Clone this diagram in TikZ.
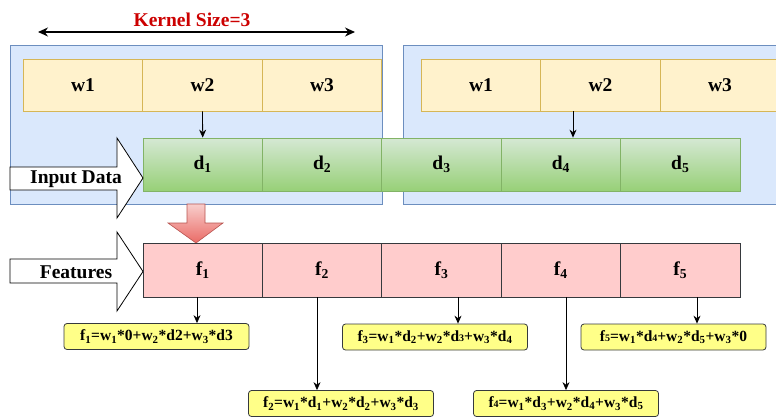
\documentclass[tikz,border=0pt]{standalone}
\usepackage{fontspec}
\setmainfont{Liberation Serif}[BoldFont={Liberation Serif Bold}]
\newfontfamily\diagserif{Liberation Serif}[BoldFont={Liberation Serif Bold}]
\usetikzlibrary{arrows.meta}

\definecolor{winfill}{HTML}{DAE8FC}
\definecolor{winline}{HTML}{6C8EBF}
\definecolor{wfill}{HTML}{FFF2CC}
\definecolor{wline}{HTML}{D6B656}
\definecolor{dtop}{HTML}{D5E8D4}
\definecolor{dbot}{HTML}{97D077}
\definecolor{dline}{HTML}{82B366}
\definecolor{ffill}{HTML}{FFCCCC}
\definecolor{darkline}{HTML}{36393D}
\definecolor{eqfill}{HTML}{FFFF88}
\definecolor{rtop}{HTML}{F8CECC}
\definecolor{rbot}{HTML}{EA6B66}
\definecolor{rline}{HTML}{B85450}
\definecolor{kred}{HTML}{CC0000}

\newcommand\lblfont{\diagserif\fontsize{19.5}{19.5}\selectfont\bfseries}
\newcommand\eqfont{\diagserif\fontsize{15.5}{15.5}\selectfont\bfseries}
% small digit kept on the baseline
\newcommand\lo[1]{{\fontsize{10}{10}\selectfont #1}}

\tikzset{
  win/.style={draw=winline, fill=winfill, line width=0.8pt, inner sep=0pt, anchor=north west},
  wcell/.style={draw=wline, fill=wfill, line width=0.8pt, minimum width=119.7pt,
    minimum height=52pt, inner sep=0pt, font=\lblfont},
  dcell/.style={draw=dline, top color=dtop, bottom color=dbot, line width=0.8pt,
    minimum width=119.4pt, minimum height=53pt, inner sep=0pt, font=\lblfont},
  fcell/.style={draw=darkline, fill=ffill, line width=0.8pt,
    minimum width=119.4pt, minimum height=54pt, inner sep=0pt, font=\lblfont},
  eqbox/.style={draw=darkline, fill=eqfill, line width=0.8pt, rounded corners=3pt,
    minimum width=185pt, minimum height=26pt, inner sep=0pt, font=\eqfont},
  arr/.style={-{Stealth[length=8pt,width=7pt]}, line width=0.8pt},
  blockarrow/.style={draw=black, fill=white, line width=0.8pt},
}

\begin{document}
\begin{tikzpicture}[x=1pt,y=-1pt]
\useasboundingbox (0,0) rectangle (776,416);
\clip (0,0) rectangle (776,416);

% kernel size marker
\node[font=\lblfont, text=kred] (ktitle) at (192,20) {Kernel Size=3};
\coordinate (kstart) at (38,32);
\coordinate (kend) at (355,32);
\draw[{Stealth[length=10pt,width=9pt]}-{Stealth[length=10pt,width=9pt]}, line width=1.2pt] (kstart) -- (kend);

% two kernel windows
\node[win, minimum width=372pt, minimum height=159pt] (lwin) at (10,45) {};
\node[win, minimum width=390pt, minimum height=159pt] (rwin) at (403,45) {};

% kernel weights, first window
\node[wcell] (lw1) at (83,85) {w1};
\node[wcell] (lw2) at (202.5,85) {w2};
\node[wcell] (lw3) at (322,85) {w3};
% kernel weights, second window
\node[wcell] (rw1) at (481,85) {w1};
\node[wcell] (rw2) at (600.5,85) {w2};
\node[wcell] (rw3) at (720,85) {w3};

% input data
\node[dcell] (d1) at (202.7,164.5) {d\textsubscript{1}};
\node[dcell] (d2) at (322.1,164.5) {d\textsubscript{2}};
\node[dcell] (d3) at (441.5,164.5) {d\textsubscript{3}};
\node[dcell] (d4) at (560.9,164.5) {d\textsubscript{4}};
\node[dcell] (d5) at (680.3,164.5) {d\textsubscript{5}};

\draw[arr] (lw2.south) -- (d1.north);
\draw[arr] ([xshift=-27.5pt]rw2.south) -- ([xshift=-27.5pt]rw2.south |- d4.north);

% side block arrows
\draw[blockarrow] (10,167) -- (117,167) -- (117,138) -- (143,178) -- (117,218)
  -- (117,190) -- (10,190) -- cycle;
\node[font=\lblfont] (inlbl) at (76,179) {Input Data};
\draw[blockarrow] (10,259) -- (117,259) -- (117,232) -- (143,271.5) -- (117,311)
  -- (117,283) -- (10,283) -- cycle;
\node[font=\lblfont] (ftlbl) at (76,272) {Features};

% convolution step
\path[draw=rline, top color=rtop, bottom color=rbot, line width=0.6pt]
  (187,204) -- (205,204) -- (205,223) -- (223,223) -- (196,243) -- (168,223)
  -- (187,223) -- cycle;

% output features
\node[fcell] (f1) at (202.7,270) {f\textsubscript{1}};
\node[fcell] (f2) at (322.1,270) {f\textsubscript{2}};
\node[fcell] (f3) at (441.5,270) {f\textsubscript{3}};
\node[fcell] (f4) at (560.9,270) {f\textsubscript{4}};
\node[fcell] (f5) at (680.3,270) {f\textsubscript{5}};

% formulas
\node[eqbox] (e1) at (156.5,336.5) {f\textsubscript{1}=w\textsubscript{1}*0+w\textsubscript{2}*d2+w\textsubscript{3}*d3};
\node[eqbox] (e2) at (341,403.5) {f\textsubscript{2}=w\textsubscript{1}*d\textsubscript{1}+w\textsubscript{2}*d\textsubscript{2}+w\textsubscript{3}*d\textsubscript{3}};
\node[eqbox] (e3) at (435,337) {f\textsubscript{3}=w\textsubscript{1}*d\textsubscript{2}+w\textsubscript{2}*d\lo{3}+w\textsubscript{3}*d\textsubscript{4}};
\node[eqbox] (e4) at (566,403.5) {f\lo{4}=w\textsubscript{1}*d\textsubscript{3}+w\textsubscript{2}*d\textsubscript{4}+w\textsubscript{3}*d\textsubscript{5}};
\node[eqbox] (e5) at (673.5,337) {f\lo{5}=w\textsubscript{1}*d\lo{4}+w\textsubscript{2}*d\textsubscript{5}+w\textsubscript{3}*0};

\draw[arr] ([xshift=-5.7pt]f1.south) -- ([xshift=-5.7pt]f1.south |- e1.north);
\draw[arr] ([xshift=-5.1pt]f2.south) -- ([xshift=-5.1pt]f2.south |- e2.north);
\draw[arr] ([xshift=16.5pt]f3.south) -- ([xshift=16.5pt]f3.south |- e3.north);
\draw[arr] ([xshift=5.1pt]f4.south) -- ([xshift=5.1pt]f4.south |- e4.north);
\draw[arr] ([xshift=16.7pt]f5.south) -- ([xshift=16.7pt]f5.south |- e5.north);
\end{tikzpicture}
\end{document}
